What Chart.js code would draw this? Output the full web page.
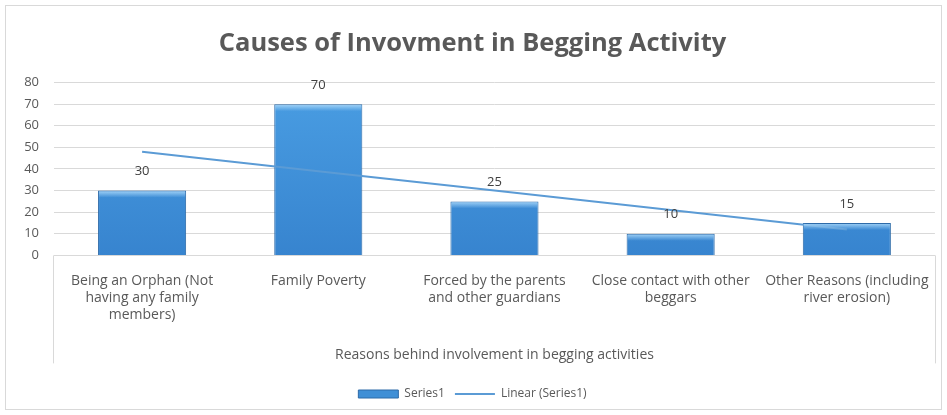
<!DOCTYPE html>
<html>
<head>
<meta charset="utf-8">
<script src="https://cdn.jsdelivr.net/npm/chart.js@4/dist/chart.umd.min.js"></script>
<style>
  html, body { margin: 0; padding: 0; background: #fff; }
  #wrap { width: 947px; height: 415px; }
</style>
</head>
<body>
<div id="wrap"><canvas id="chart" width="947" height="415"></canvas></div>
<script>
// categories and values
const categories = [
  ['Being an Orphan (Not', 'having any family', 'members)'],
  ['Family Poverty'],
  ['Forced by the parents', 'and other guardians'],
  ['Close contact with other', 'beggars'],
  ['Other Reasons (including', 'river erosion)']
];
const series1 = [30, 70, 25, 10, 15];
// linear trend line, as read at each category
const trendValues = [48, 39, 30, 21, 12];
const yTicks = [0, 10, 20, 30, 40, 50, 60, 70, 80];

const textColor = '#595959';
const fontFamily = '"Open Sans", "Noto Sans", sans-serif';

// frame around the chart and the plot area sides
const framePlugin = {
  id: 'frame',
  beforeDraw(chart) {
    const ctx = chart.ctx;
    const area = chart.chartArea;
    ctx.save();
    ctx.fillStyle = '#fff';
    ctx.fillRect(0, 0, chart.width, chart.height);
    ctx.strokeStyle = '#d9d9d9';
    ctx.lineWidth = 1;
    ctx.strokeRect(5.5, 5.5, chart.width - 11, chart.height - 11);
    ctx.beginPath();
    ctx.moveTo(Math.round(area.left) - 0.5, area.bottom);
    ctx.lineTo(Math.round(area.left) - 0.5, area.bottom + 108);
    ctx.moveTo(Math.round(area.right) + 0.5, area.bottom);
    ctx.lineTo(Math.round(area.right) + 0.5, area.bottom + 108);
    ctx.stroke();
    ctx.restore();
  }
};

// value labels above bars plus a light top edge on each bar
const barLabelPlugin = {
  id: 'barLabels',
  afterDatasetsDraw(chart) {
    const ctx = chart.ctx;
    const meta = chart.getDatasetMeta(1); // the bar dataset
    ctx.save();
    meta.data.forEach((bar, i) => {
      const half = bar.width / 2;
      const g = ctx.createLinearGradient(0, bar.y, 0, bar.y + 7);
      g.addColorStop(0, 'rgba(175, 220, 252, 0.9)');
      g.addColorStop(1, 'rgba(175, 220, 252, 0)');
      ctx.fillStyle = g;
      ctx.fillRect(bar.x - half + 1, bar.y + 1, bar.width - 2, 7);
      ctx.fillStyle = '#404040';
      ctx.font = '13px ' + fontFamily;
      ctx.textAlign = 'center';
      ctx.textBaseline = 'middle';
      ctx.fillText(series1[i], bar.x, bar.y - 19);
    });
    ctx.restore();
  }
};

const ctx = document.getElementById('chart').getContext('2d');
new Chart(ctx, {
  type: 'bar',
  data: {
    labels: categories,
    datasets: [
      {
        type: 'line',
        label: 'Linear (Series1)',
        data: trendValues,
        borderColor: '#5b9bd5',
        backgroundColor: '#5b9bd5',
        borderWidth: 2,
        pointRadius: 0,
        tension: 0,
        order: 0
      },
      {
        label: 'Series1',
        data: series1,
        backgroundColor: (c) => {
          const area = c.chart.chartArea;
          if (!area) return '#3f8fd6';
          const g = c.chart.ctx.createLinearGradient(0, area.top, 0, area.bottom);
          g.addColorStop(0, '#4a9ee3');
          g.addColorStop(1, '#3784cf');
          return g;
        },
        borderColor: '#2c6aa8',
        borderWidth: 1,
        categoryPercentage: 1,
        barPercentage: 0.5,
        order: 1
      }
    ]
  },
  options: {
    responsive: false,
    animation: false,
    layout: { padding: { left: 8, right: 10, top: 14, bottom: 5 } },
    plugins: {
      title: {
        display: true,
        text: 'Causes of Invovment in Begging Activity',
        color: textColor,
        font: { family: fontFamily, size: 25.5, weight: 'bold' },
        padding: { top: 14, bottom: 24 }
      },
      legend: {
        position: 'bottom',
        reverse: true,
        labels: {
          color: textColor,
          font: { family: fontFamily, size: 12 },
          usePointStyle: true,
          pointStyleWidth: 40,
          boxHeight: 8,
          padding: 10,
          generateLabels(chart) {
            const items = Chart.defaults.plugins.legend.labels.generateLabels(chart);
            items.forEach(item => {
              if (item.datasetIndex === 0) {
                item.pointStyle = 'line';
                item.strokeStyle = '#5b9bd5';
                item.lineWidth = 2;
              } else {
                item.pointStyle = 'rect';
                item.fillStyle = '#3f8fd6';
                item.strokeStyle = '#2c6aa8';
                item.lineWidth = 1;
              }
            });
            return items;
          }
        }
      },
      tooltip: { enabled: false }
    },
    scales: {
      x: {
        grid: { display: false, drawTicks: false },
        border: { display: true, color: '#d9d9d9' },
        ticks: {
          color: textColor,
          font: { family: fontFamily, size: 14, lineHeight: 1.21 },
          padding: 17.5,
          maxRotation: 0,
          autoSkip: false
        },
        title: {
          display: true,
          text: 'Reasons behind involvement in begging activities',
          color: textColor,
          font: { family: fontFamily, size: 14 },
          padding: { top: 5, bottom: 15 }
        }
      },
      y: {
        min: 0,
        max: 80,
        afterBuildTicks(scale) {
          scale.ticks = yTicks.map(v => ({ value: v }));
        },
        afterFit(scale) {
          scale.width = 46;
        },
        grid: { color: '#d9d9d9', drawTicks: false },
        border: { display: false },
        ticks: {
          color: textColor,
          font: { family: fontFamily, size: 13 },
          padding: 15
        }
      }
    }
  },
  plugins: [framePlugin, barLabelPlugin]
});
</script>
</body>
</html>
